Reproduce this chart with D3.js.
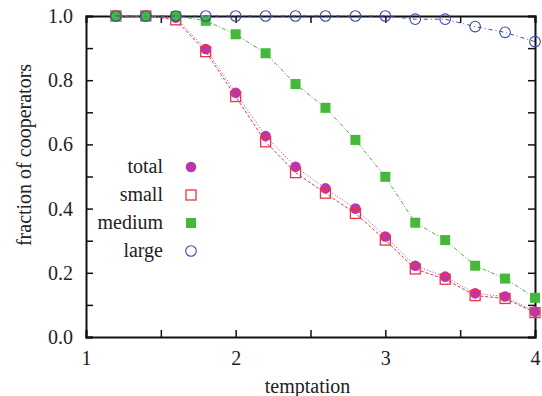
<!DOCTYPE html>
<html>
<head>
<meta charset="utf-8">
<script src="https://cdn.jsdelivr.net/npm/d3@7"></script>
</head>
<body style="margin:0;background:#fff">
<div id="chart"></div>
<script>
// temptation values
const temptation = [1.2, 1.4, 1.6, 1.8, 2.0, 2.2, 2.4, 2.6, 2.8, 3.0, 3.2, 3.4, 3.6, 3.8, 4.0];

// fraction of cooperators per group
const total  = [1.0, 1.0, 0.995, 0.897, 0.761, 0.626, 0.53, 0.463, 0.40, 0.313, 0.222, 0.188, 0.136, 0.126, 0.079];
const small  = [1.0, 1.0, 0.988, 0.889, 0.749, 0.608, 0.512, 0.448, 0.385, 0.302, 0.212, 0.18, 0.129, 0.12, 0.076];
const medium = [1.0, 1.0, 1.0, 0.985, 0.943, 0.884, 0.788, 0.714, 0.614, 0.499, 0.356, 0.302, 0.222, 0.182, 0.122];
const large  = [1.0, 1.0, 1.0, 1.0, 1.0, 1.0, 1.0, 1.0, 1.0, 1.0, 0.99, 0.99, 0.967, 0.949, 0.92];

const xTickLabels = [1, 2, 3, 4];
const xMinorTicks = [1.5, 2.5, 3.5];
const yTicks = [0, 0.1, 0.2, 0.3, 0.4, 0.5, 0.6, 0.7, 0.8, 0.9, 1.0];
const yTickLabels = [0, 0.2, 0.4, 0.6, 0.8, 1.0];

const series = [
  { name: 'total',  values: total,  color: '#b936ad', marker: 'circle', filled: true,  dash: '1,2' },
  { name: 'small',  values: small,  color: '#ee3344', marker: 'square', filled: false, dash: '3,2' },
  { name: 'medium', values: medium, color: '#44b838', marker: 'square', filled: true,  dash: '4,2,1,2' },
  { name: 'large',  values: large,  color: '#3c4aa8', marker: 'circle', filled: false, dash: '4,3,1,3' }
];

const FONT = "'Liberation Serif', 'Times New Roman', Times, serif";
const width = 542, height = 396;
const margin = {top: 16, right: 7, bottom: 59, left: 86};
const innerW = width - margin.left - margin.right;
const innerH = height - margin.top - margin.bottom;

const svg = d3.select('#chart').append('svg')
  .attr('width', width)
  .attr('height', height)
  .attr('font-family', FONT)
  .style('font-family', FONT);

const chart = svg.append('g')
  .attr('transform', `translate(${margin.left}, ${margin.top})`);

const x = d3.scaleLinear().domain([1, 4]).range([0, innerW]);
const y = d3.scaleLinear().domain([0, 1]).range([innerH, 0]);

// axes: ticks point inward, on all four sides
const tickLen = 7;
const allXTicks = xTickLabels.concat(xMinorTicks);

chart.append('g')
  .attr('class', 'axis axis-x')
  .attr('transform', `translate(0, ${innerH})`)
  .call(d3.axisBottom(x).tickValues(allXTicks).tickSize(-tickLen).tickPadding(14)
    .tickFormat(d => xTickLabels.includes(d) ? d3.format('d')(d) : ''));

chart.append('g')
  .attr('class', 'axis axis-x-top')
  .call(d3.axisTop(x).tickValues(allXTicks).tickSize(-tickLen).tickFormat(''));

chart.append('g')
  .attr('class', 'axis axis-y')
  .call(d3.axisLeft(y).tickValues(yTicks).tickSize(-tickLen).tickPadding(13)
    .tickFormat(d => yTickLabels.some(v => Math.abs(v - d) < 1e-9) ? d3.format('.1f')(d) : ''));

chart.append('g')
  .attr('class', 'axis axis-y-right')
  .attr('transform', `translate(${innerW}, 0)`)
  .call(d3.axisRight(y).tickValues(yTicks).tickSize(-tickLen).tickFormat(''));

chart.selectAll('.axis').attr('font-family', FONT).attr('font-size', 20);
chart.selectAll('.axis path').attr('stroke', '#111').attr('stroke-width', 2);
chart.selectAll('.axis line').attr('stroke', '#111').attr('stroke-width', 1.5);
chart.selectAll('.axis text')
  .attr('font-family', FONT)
  .style('font-family', FONT)
  .style('font-size', '20px')
  .attr('fill', '#222');

// axis titles
svg.append('text')
  .attr('x', margin.left + innerW / 2 - 3)
  .attr('y', 393)
  .attr('text-anchor', 'middle')
  .attr('font-family', FONT)
  .style('font-family', FONT)
  .style('font-size', '20px')
  .attr('fill', '#222')
  .text('temptation');

svg.append('text')
  .attr('transform', `translate(31, 155) rotate(-90)`)
  .attr('text-anchor', 'middle')
  .attr('font-family', FONT)
  .style('font-family', FONT)
  .style('font-size', '20px')
  .attr('fill', '#222')
  .text('fraction of cooperators');

// lines and markers
const line = d3.line()
  .x((d, i) => x(temptation[i]))
  .y(d => y(d));

function drawMarker(g, s, cx, cy) {
  if (s.marker === 'circle') {
    g.append('circle')
      .attr('cx', cx).attr('cy', cy).attr('r', 5.3)
      .attr('fill', s.filled ? s.color : 'none')
      .attr('stroke', s.color)
      .attr('stroke-width', s.filled ? 0 : 1.1);
  } else {
    const h = 5;
    g.append('rect')
      .attr('x', cx - h).attr('y', cy - h)
      .attr('width', 2 * h).attr('height', 2 * h)
      .attr('fill', s.filled ? s.color : 'none')
      .attr('stroke', s.color)
      .attr('stroke-width', s.filled ? 0 : 1.3);
  }
}

series.forEach(s => {
  const g = chart.append('g').attr('class', 'series ' + s.name);
  g.append('path')
    .datum(s.values)
    .attr('d', line)
    .attr('fill', 'none')
    .attr('stroke', s.color)
    .attr('stroke-width', 1)
    .attr('stroke-dasharray', s.dash);
  s.values.forEach((v, i) => drawMarker(g, s, x(temptation[i]), y(v)));
});

// legend
const legend = svg.append('g').attr('class', 'legend');
series.forEach((s, i) => {
  const ly = 167 + i * 28;
  legend.append('text')
    .attr('x', 163)
    .attr('y', ly + 6)
    .attr('text-anchor', 'end')
    .attr('font-family', FONT)
    .style('font-family', FONT)
    .style('font-size', '20px')
    .attr('fill', '#222')
    .text(s.name);
  drawMarker(legend, s, 191, ly);
});
</script>
</body>
</html>
